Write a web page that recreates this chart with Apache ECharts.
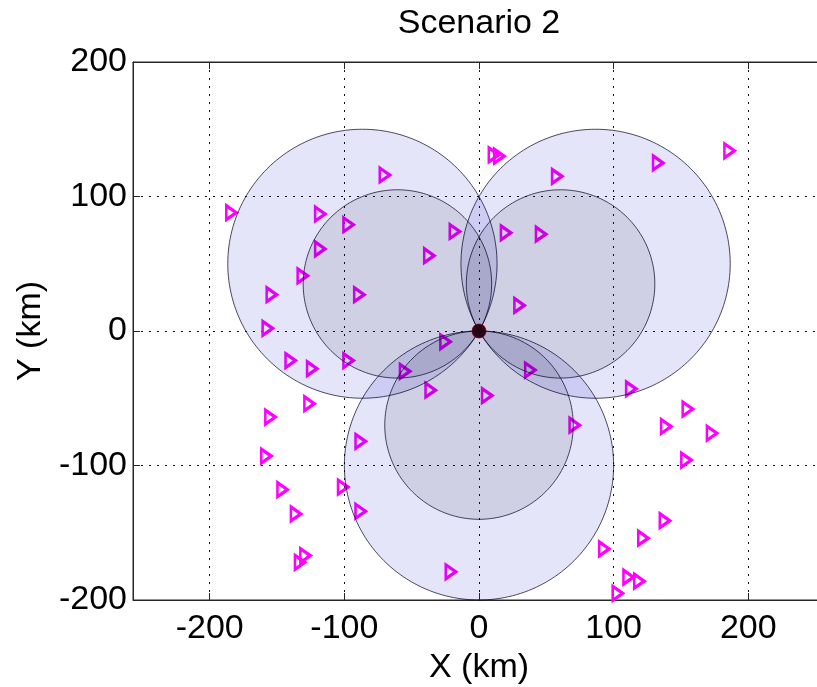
<!DOCTYPE html>
<html>
<head>
<meta charset="utf-8">
<script src="https://cdn.jsdelivr.net/npm/echarts@6/dist/echarts.min.js"></script>
<style>
  html, body { margin: 0; padding: 0; background: #fff; }
  #main { width: 817px; height: 687px; }
</style>
</head>
<body>
<div id="main"></div>
<script>
// tick labels
var xTicks = [-200, -100, 0, 100, 200];
var yTicks = [-200, -100, 0, 100, 200];

// coverage circles: [centerX, centerY] in km
var bigCenters = [[-86.6, 50], [86.6, 50], [0, -100]];
var bigRadius = 100;
var smallCenters = [[-60.6, 35], [60.6, 35], [0, -70]];
var smallRadius = 70;

// station at origin
var origin = [[0, 0]];

// receivers (km)
var receivers = [
    [-70, 116], [-184, 88], [-118, 87], [-97, 79], [-18, 74], [-118, 61],
    [-37, 56], [-131, 41], [-154, 27], [-89, 27], [-157, 2], [-140, -22],
    [-124, -28], [-97, -22], [-25, -8], [-55, -30], [-36, -44], [-126, -54],
    [-155, -64], [-88, -82], [-158, -93], [-101, -116], [-146, -118], [-88, -134],
    [-136, -136], [-129, -167], [-133, -172], [-21, -179],
    [11, 131], [15, 130], [58, 115], [133, 125], [186, 134], [20, 73],
    [46, 72], [30, 19], [38, -29], [6, -48], [113, -43], [71, -70],
    [155, -58], [139, -71], [173, -76], [154, -96], [138, -141], [122, -154],
    [93, -162], [111, -183], [119, -186], [103, -195]
];

var font = "'Liberation Sans', Arial, Helvetica, sans-serif";

function circleItems(centers, r) {
    return centers.map(function (c) { return [c[0], c[1], r]; });
}

// draw a circle in data space, mapped through the axes
function makeRenderer(fill) {
    return function (params, api) {
        var cx = api.value(0), cy = api.value(1), r = api.value(2);
        var pts = [];
        for (var i = 0; i < 200; i++) {
            var a = i / 200 * Math.PI * 2;
            pts.push(api.coord([cx + r * Math.cos(a), cy + r * Math.sin(a)]));
        }
        return {
            type: 'polygon',
            shape: { points: pts },
            style: { fill: fill, stroke: 'rgba(0,0,30,0.7)', lineWidth: 1 }
        };
    };
}

var myChart = echarts.init(document.getElementById('main'));

var option = {
    animation: false,
    backgroundColor: '#fff',
    title: {
        text: 'Scenario 2',
        left: 474,
        textAlign: 'center',
        top: 2,
        textStyle: { fontFamily: font, fontSize: 34, fontWeight: 'normal', color: '#000' }
    },
    grid: {
        left: 133, top: 62, right: -8, bottom: 87,
        show: true, borderColor: '#262626', borderWidth: 1,
        outerBoundsMode: 'none'
    },
    xAxis: [{
        type: 'value',
        min: -257, max: 257,
        name: 'X (km)',
        nameLocation: 'middle',
        nameGap: 45,
        nameTextStyle: { fontFamily: font, fontSize: 34, color: '#000' },
        axisLine: { onZero: false, lineStyle: { color: '#262626' } },
        axisTick: { inside: true, length: 7, customValues: xTicks, lineStyle: { color: '#262626' } },
        axisLabel: { customValues: xTicks, margin: 12, fontFamily: font, fontSize: 34, color: '#000' },
        splitLine: { show: true, lineStyle: { color: '#111', type: [2, 6], width: 1 } }
    }, {
        type: 'value',
        position: 'top',
        min: -257, max: 257,
        axisLine: { onZero: false, lineStyle: { color: '#262626' } },
        axisTick: { inside: true, length: 7, customValues: xTicks, lineStyle: { color: '#262626' } },
        axisLabel: { show: false },
        splitLine: { show: false }
    }],
    yAxis: {
        type: 'value',
        min: -200, max: 200, interval: 100,
        name: 'Y (km)',
        nameLocation: 'middle',
        nameRotate: 90,
        nameGap: 82,
        nameTextStyle: { fontFamily: font, fontSize: 34, color: '#000' },
        axisLine: { onZero: false, lineStyle: { color: '#262626' } },
        axisTick: { inside: true, length: 7, lineStyle: { color: '#262626' } },
        axisLabel: { margin: 6, padding: [8, 0, 0, 0], fontFamily: font, fontSize: 34, color: '#000' },
        splitLine: { show: true, lineStyle: { color: '#111', type: [2, 6], width: 1 } }
    },
    series: [{
        name: 'receivers',
        type: 'scatter',
        z: 2,
        symbol: 'path://M0,0L10,6L0,12Z',
        symbolSize: [10, 14],
        itemStyle: { color: 'transparent', borderColor: '#ff00ff', borderWidth: 3, opacity: 1 },
        data: receivers
    }, {
        name: 'big',
        type: 'custom',
        z: 3,
        renderItem: makeRenderer('rgba(0,0,200,0.1)'),
        data: circleItems(bigCenters, bigRadius)
    }, {
        name: 'small',
        type: 'custom',
        z: 4,
        renderItem: makeRenderer('rgba(0,0,20,0.09)'),
        data: circleItems(smallCenters, smallRadius)
    }, {
        name: 'origin-red',
        type: 'scatter',
        z: 5,
        symbol: 'circle',
        symbolSize: 15,
        itemStyle: { color: '#d0001a' },
        data: origin
    }, {
        name: 'origin',
        type: 'scatter',
        z: 6,
        symbol: 'circle',
        symbolSize: 14,
        itemStyle: { color: '#000010' },
        data: origin
    }]
};

myChart.setOption(option);
</script>
</body>
</html>
